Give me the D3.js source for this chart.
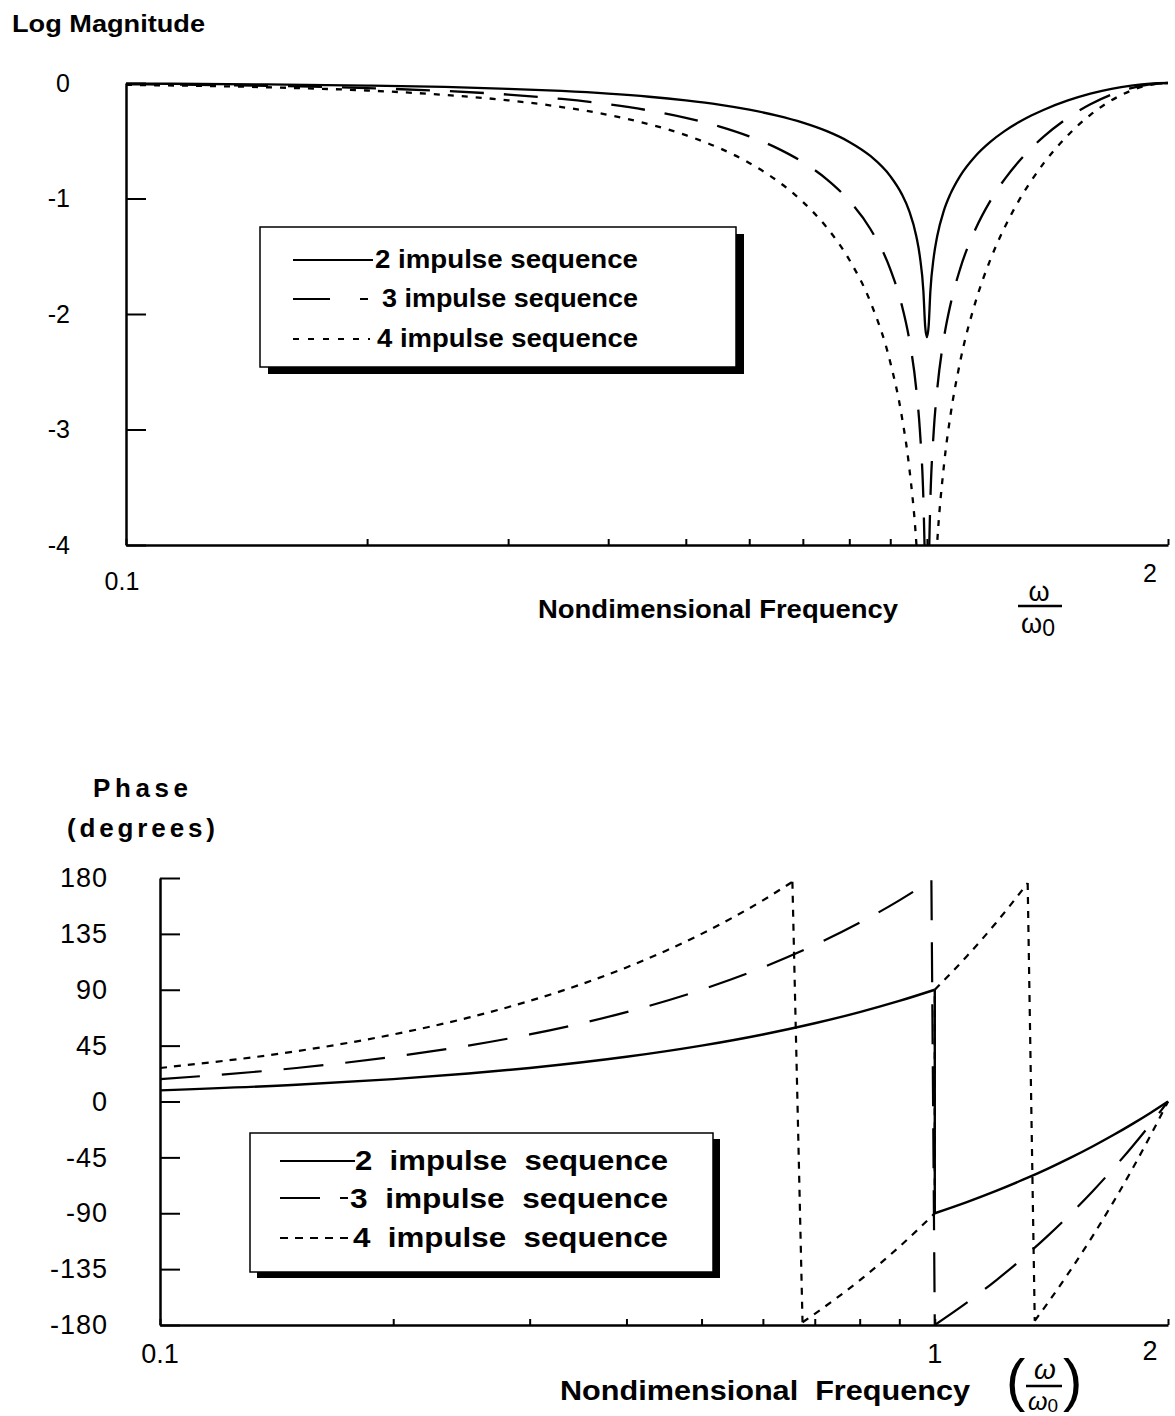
<!DOCTYPE html>
<html><head><meta charset="utf-8">
<script src="https://cdn.jsdelivr.net/npm/d3@7"></script>
<style>
body{margin:0;background:#fff}
svg{display:block}
text{font-family:"Liberation Sans",Arial,Helvetica,sans-serif;fill:#000}
</style>
</head><body>
<svg id="c" width="1175" height="1416"></svg>
<script>
// ---------- DATA ----------
// Top chart: log10 magnitude vs nondimensional frequency
const magFreq = [0.1,0.15,0.2,0.25,0.3,0.35,0.4,0.45,0.5,0.55,0.6,0.65,0.7,0.75,0.8,0.85,0.9,0.93,0.95,0.97,0.98,0.99,0.995,1.0,
                 1.005,1.01,1.02,1.03,1.05,1.07,1.1,1.15,1.2,1.25,1.3,1.35,1.4,1.5,1.6,1.7,1.8,1.9,2.0];
const mag2 = [-0.005,-0.012,-0.022,-0.034,-0.050,-0.069,-0.092,-0.119,-0.151,-0.187,-0.231,-0.282,-0.343,-0.417,-0.510,-0.632,-0.806,-0.960,-1.105,-1.327,-1.503,-1.804,-2.105,-2.200,
              -2.105,-1.804,-1.503,-1.327,-1.105,-0.960,-0.806,-0.632,-0.510,-0.417,-0.343,-0.282,-0.231,-0.151,-0.092,-0.050,-0.022,-0.005,0];
const mag3 = [-0.011,-0.024,-0.044,-0.069,-0.100,-0.138,-0.184,-0.238,-0.301,-0.375,-0.462,-0.564,-0.686,-0.834,-1.020,-1.264,-1.611,-1.919,-2.211,-2.654,-3.006,-3.608,-4.210,-4.600,
              -4.210,-3.608,-3.006,-2.654,-2.211,-1.919,-1.611,-1.264,-1.020,-0.834,-0.686,-0.564,-0.462,-0.301,-0.184,-0.100,-0.044,-0.011,0];
const mag4 = [-0.016,-0.037,-0.065,-0.103,-0.150,-0.208,-0.276,-0.357,-0.452,-0.562,-0.692,-0.846,-1.029,-1.252,-1.530,-1.895,-2.417,-2.879,-3.316,-3.981,-4.509,-5.412,-6.315,-6.800,
              -6.315,-5.412,-4.509,-3.981,-3.316,-2.879,-2.417,-1.895,-1.530,-1.252,-1.029,-0.846,-0.692,-0.452,-0.276,-0.150,-0.065,-0.016,0];

// Bottom chart: phase (degrees); each series is a list of branches of [frequency, degrees]
const phase2 = [
  [[0.1,9],[0.15,13.5],[0.2,18],[0.25,22.5],[0.3,27],[0.4,36],[0.5,45],[0.6,54],[0.7,63],[0.8,72],[0.9,81],[1.0,90]],
  [[1.0,-90],[1.1,-81],[1.2,-72],[1.3,-63],[1.4,-54],[1.5,-45],[1.6,-36],[1.7,-27],[1.8,-18],[1.9,-9],[2.0,0]]
];
const phase3 = [
  [[0.1,18],[0.15,27],[0.2,36],[0.25,45],[0.3,54],[0.4,72],[0.5,90],[0.6,108],[0.7,126],[0.8,144],[0.9,162],[0.99,178.2]],
  [[1.0,-180],[1.1,-162],[1.2,-144],[1.3,-126],[1.4,-108],[1.5,-90],[1.6,-72],[1.7,-54],[1.8,-36],[1.9,-18],[2.0,0]]
];
const phase4 = [
  [[0.1,27],[0.15,40.5],[0.2,54],[0.25,67.5],[0.3,81],[0.35,94.5],[0.4,108],[0.45,121.5],[0.5,135],[0.55,148.5],[0.6,162],[0.655,176.9]],
  [[0.675,-177.8],[0.7,-171],[0.8,-144],[0.9,-117],[1.0,-90]],
  [[1.0,90],[1.1,117],[1.2,144],[1.318,175.9]],
  [[1.346,-176.6],[1.4,-162],[1.5,-135],[1.6,-108],[1.7,-81],[1.8,-54],[1.9,-27],[2.0,0]]
];

const magTicksY = [0,-1,-2,-3,-4];
const phaseTicksY = [180,135,90,45,0,-45,-90,-135,-180];
const freqTicks = [0.1,0.2,0.3,0.4,0.5,0.6,0.7,0.8,0.9,1,2];
const topFreqLabels = ["0.1","2"];
const bottomFreqLabels = ["0.1","1","2"];
const legendTop = ["2 impulse sequence","3 impulse sequence","4 impulse sequence"];
const legendBottom = ["2  impulse  sequence","3  impulse  sequence","4  impulse  sequence"];

// ---------- DRAWING ----------
const svg = d3.select("#c");
const FONT = '"Liberation Sans",Arial,Helvetica,sans-serif';

function styleAxis(g, fs, ls) {
  g.attr("font-family", FONT).attr("font-size", fs);
  g.select(".domain").attr("stroke-width", 2.5).attr("stroke", "#000");
  g.selectAll(".tick line").attr("stroke-width", 2).attr("stroke", "#000");
  if (ls) g.selectAll(".tick text").attr("letter-spacing", ls);
}

// ===== TOP CHART =====
const xTop = d3.scaleLog().domain([0.1, 2]).range([126, 1168]);
const yTop = d3.scaleLinear().domain([-4, 0]).range([545, 83]);

svg.append("defs").append("clipPath").attr("id", "clipTop")
  .append("rect").attr("x", 120).attr("y", 60).attr("width", 1055).attr("height", 485);

const gyTop = svg.append("g").attr("transform", "translate(126,0)")
  .call(d3.axisLeft(yTop).tickValues(magTicksY).tickSize(-20).tickSizeOuter(0).tickPadding(56).tickFormat(d => String(d)));
styleAxis(gyTop, 25);

const gxTop = svg.append("g").attr("transform", "translate(0,545)")
  .call(d3.axisBottom(xTop).tickValues(freqTicks).tickSize(-6).tickSizeOuter(0).tickFormat(""));
styleAxis(gxTop, 25);

const lineTop = d3.line().x(d => xTop(d[0])).y(d => yTop(d[1])).curve(d3.curveMonotoneX);
const styles = {
  solid: {dash: null},
  dashTop: {dash: "34,20"},
  dotTop: {dash: "6,8"},
  dashBot: {dash: "40,22"},
  dotBot: {dash: "7,7"}
};
const gTopLines = svg.append("g").attr("clip-path", "url(#clipTop)");
[[mag2, styles.solid], [mag3, styles.dashTop], [mag4, styles.dotTop]].forEach(([vals, st]) => {
  gTopLines.append("path")
    .attr("d", lineTop(d3.zip(magFreq, vals)))
    .attr("fill", "none").attr("stroke", "#000").attr("stroke-width", 2.3)
    .attr("stroke-dasharray", st.dash);
});

// top x labels
svg.append("text").attr("x", xTop(0.1) - 4).attr("y", 590).attr("text-anchor", "middle")
  .attr("font-size", 25).text(topFreqLabels[0]);
svg.append("text").attr("x", xTop(2) - 18).attr("y", 582).attr("text-anchor", "middle")
  .attr("font-size", 25).text(topFreqLabels[1]);

// titles
svg.append("text").attr("x", 12).attr("y", 32).attr("font-size", 24).attr("font-weight", "bold")
  .attr("textLength", 193).attr("lengthAdjust", "spacingAndGlyphs").text("Log Magnitude");
svg.append("text").attr("x", 538).attr("y", 618).attr("font-size", 25).attr("font-weight", "bold")
  .attr("textLength", 360).attr("lengthAdjust", "spacingAndGlyphs").text("Nondimensional Frequency");

// omega fraction (top)
svg.append("text").attr("x", 1039).attr("y", 601).attr("text-anchor", "middle")
  .attr("font-size", 27).attr("font-family", '"DejaVu Sans",sans-serif').text("ω");
svg.append("line").attr("x1", 1018).attr("x2", 1062).attr("y1", 606).attr("y2", 606)
  .attr("stroke", "#000").attr("stroke-width", 2.5);
const w0 = svg.append("text").attr("x", 1038).attr("y", 633).attr("text-anchor", "middle")
  .attr("font-size", 27).attr("font-family", '"DejaVu Sans",sans-serif');
w0.append("tspan").text("ω");
w0.append("tspan").attr("dy", 3).attr("font-size", 23).attr("font-family", FONT).text("0");

// legend helper
function legend(box, off, rows, labels, textX, textEnd, baselines, fs) {
  svg.append("rect").attr("x", box[0] + off[0]).attr("y", box[1] + off[1])
    .attr("width", box[2]).attr("height", box[3]).attr("fill", "#000");
  svg.append("rect").attr("x", box[0]).attr("y", box[1]).attr("width", box[2]).attr("height", box[3])
    .attr("fill", "#fff").attr("stroke", "#000").attr("stroke-width", 1.5);
  rows.forEach((r, i) => {
    svg.append("line").attr("x1", r.x1).attr("x2", r.x2).attr("y1", r.y).attr("y2", r.y)
      .attr("stroke", "#000").attr("stroke-width", 2.2).attr("stroke-dasharray", r.dash);
    svg.append("text").attr("x", textX[i]).attr("y", baselines[i]).attr("font-size", fs)
      .attr("font-weight", "bold").attr("textLength", textEnd - textX[i])
      .attr("lengthAdjust", "spacingAndGlyphs").attr("xml:space", "preserve").text(labels[i]);
  });
}
legend([260, 227, 476, 140], [8, 7],
  [{x1: 293, x2: 373, y: 260, dash: null},
   {x1: 293, x2: 368, y: 299, dash: "37,30"},
   {x1: 293, x2: 370, y: 339, dash: "6,9"}],
  legendTop, [375, 382, 377], 638, [268, 307, 347], 25);

// ===== BOTTOM CHART =====
const xBot = d3.scaleLog().domain([0.1, 2]).range([160, 1168]);
const yBot = d3.scaleLinear().domain([-180, 180]).range([1325, 878]);

const gyBot = svg.append("g").attr("transform", "translate(160,0)")
  .call(d3.axisLeft(yBot).tickValues(phaseTicksY).tickSize(-20).tickSizeOuter(0).tickPadding(52).tickFormat(d => String(d)));
styleAxis(gyBot, 27, 1);

const gxBot = svg.append("g").attr("transform", "translate(0,1325)")
  .call(d3.axisBottom(xBot).tickValues(freqTicks).tickSize(-6).tickSizeOuter(0).tickFormat(""));
styleAxis(gxBot, 27);

const lineBot = d3.line().x(d => xBot(d[0])).y(d => yBot(d[1])).curve(d3.curveMonotoneX);
const lineStraight = d3.line().x(d => xBot(d[0])).y(d => yBot(d[1]));
[[phase2, styles.solid, 2.4], [phase3, styles.dashBot, 2.2], [phase4, styles.dotBot, 2.2]].forEach(([branches, st, sw]) => {
  branches.forEach((br, i) => {
    svg.append("path").attr("d", lineBot(br))
      .attr("fill", "none").attr("stroke", "#000").attr("stroke-width", sw)
      .attr("stroke-dasharray", st.dash);
    if (i < branches.length - 1) {
      const nxt = branches[i + 1];
      svg.append("path").attr("d", lineStraight([br[br.length - 1], nxt[0]]))
        .attr("fill", "none").attr("stroke", "#000").attr("stroke-width", sw)
        .attr("stroke-dasharray", st.dash);
    }
  });
});

// bottom x labels
svg.append("text").attr("x", xBot(0.1)).attr("y", 1363).attr("text-anchor", "middle")
  .attr("font-size", 27).text(bottomFreqLabels[0]);
svg.append("text").attr("x", xBot(1)).attr("y", 1363).attr("text-anchor", "middle")
  .attr("font-size", 27).text(bottomFreqLabels[1]);
svg.append("text").attr("x", xBot(2) - 18).attr("y", 1360).attr("text-anchor", "middle")
  .attr("font-size", 27).text(bottomFreqLabels[2]);

// bottom titles
svg.append("text").attr("x", 93).attr("y", 797).attr("font-size", 26).attr("font-weight", "bold")
  .attr("textLength", 95).attr("lengthAdjust", "spacing").text("Phase");
svg.append("text").attr("x", 67).attr("y", 837).attr("font-size", 26).attr("font-weight", "bold")
  .attr("textLength", 148).attr("lengthAdjust", "spacing").text("(degrees)");
svg.append("text").attr("x", 560).attr("y", 1400).attr("font-size", 28).attr("font-weight", "bold")
  .attr("textLength", 410).attr("lengthAdjust", "spacingAndGlyphs").attr("xml:space", "preserve")
  .text("Nondimensional  Frequency");

// omega fraction (bottom) in parentheses
svg.append("text").attr("x", 1006).attr("y", 1400).attr("font-size", 58)
  .attr("font-family", '"Liberation Serif",serif').text("(");
svg.append("text").attr("x", 1063).attr("y", 1400).attr("font-size", 58)
  .attr("font-family", '"Liberation Serif",serif').text(")");
svg.append("text").attr("x", 1045).attr("y", 1379).attr("text-anchor", "middle")
  .attr("font-size", 28).attr("font-style", "italic").attr("font-family", '"Liberation Serif",serif').text("ω");
svg.append("line").attr("x1", 1026).attr("x2", 1062).attr("y1", 1386).attr("y2", 1386)
  .attr("stroke", "#000").attr("stroke-width", 2.5);
const w0b = svg.append("text").attr("x", 1043).attr("y", 1410).attr("text-anchor", "middle")
  .attr("font-size", 25).attr("font-style", "italic").attr("font-family", '"Liberation Serif",serif');
w0b.append("tspan").text("ω");
w0b.append("tspan").attr("dy", 2).attr("font-size", 19).attr("font-style", "normal").attr("font-family", FONT).text("0");

// legend (bottom)
legend([250, 1133, 463, 139], [7, 6],
  [{x1: 280, x2: 355, y: 1161, dash: null},
   {x1: 280, x2: 348, y: 1198, dash: "40,20"},
   {x1: 280, x2: 352, y: 1238, dash: "8,7"}],
  legendBottom, [355, 350, 353], 668, [1170, 1208, 1247], 27);
</script>
</body></html>
